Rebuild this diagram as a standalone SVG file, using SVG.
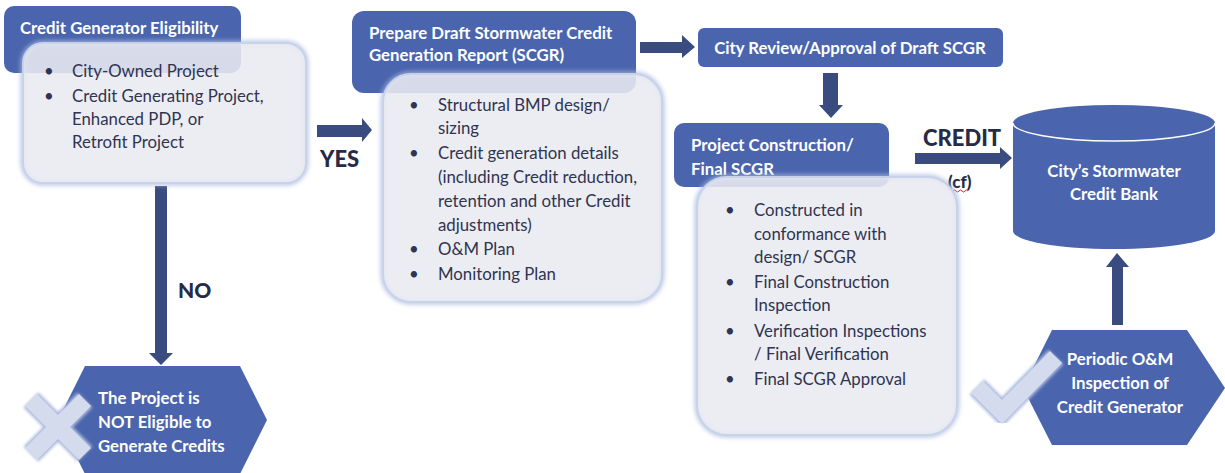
<svg xmlns="http://www.w3.org/2000/svg" width="1225" height="473" viewBox="0 0 1225 473">
<defs>
<style>
.hdr{fill:#4a65ad}
.panel{fill:#e9ebf1;fill-opacity:0.88;stroke:#c8d3ea;stroke-width:2}
.glow{fill:none;stroke:#a9bae0;stroke-width:5;stroke-opacity:0.8}
.ht{font-family:Lato,"Open Sans","Liberation Sans",sans-serif;font-weight:700;font-size:16.8px;fill:#ffffff}
.bt{font-family:Lato,"Open Sans","Liberation Sans",sans-serif;font-size:16.8px;fill:#2f3450}
.arrow{fill:#3a4b80}
.lbl{font-family:Lato,"Liberation Sans",sans-serif;font-weight:900;fill:#262b45}
.mark{fill:none;stroke:#d4dbec;stroke-width:17}
.markedge{fill:none;stroke:#a9b8dc;stroke-width:21}
</style>
<filter id="blur" x="-10%" y="-10%" width="120%" height="120%"><feGaussianBlur stdDeviation="2"/></filter>
<filter id="blur2" x="-20%" y="-20%" width="140%" height="140%"><feGaussianBlur stdDeviation="1.5"/></filter>
</defs>
<rect width="1225" height="473" fill="#ffffff"/>

<g id="connectors">
<polygon class="arrow" points="317,125 362,125 362,118 372,130 362,142 362,137 317,137"/>
<polygon class="arrow" points="640,42 682,42 682,35 695,47 682,58 682,53 640,53"/>
<polygon class="arrow" points="823,73 838,73 838,105 843,105 831,118 819,105 823,105"/>
<polygon class="arrow" points="915,153 1000,153 1000,147 1012,158 1000,169 1000,164 915,164"/>
<polygon class="arrow" points="155,186 167,186 167,353 173,353 161,365 149,353 155,353"/>
<polygon class="arrow" points="1112,325 1112,267 1106,267 1117,253 1129,267 1123,267 1123,325"/>
<text class="lbl" x="320" y="167" font-size="22">YES</text>
<text class="lbl" x="178" y="298" font-size="21">NO</text>
<text class="lbl" x="923" y="146" font-size="22">CREDIT</text>
<text class="lbl" x="948" y="188" font-size="17" font-weight="700">(cf)</text>
<path d="M953,191 q1.5,-2 3,0 t3,0 t3,0 t3,0 t3,0" fill="none" stroke="#d22" stroke-width="1"/>
</g>

<g id="eligibility">
<rect class="hdr" x="4" y="6" width="237" height="67" rx="10"/>
<text class="ht" x="20" y="34">Credit Generator Eligibility</text>
<rect class="glow" x="23" y="43" width="283" height="140" rx="20" filter="url(#blur)"/>
<rect class="panel" x="23" y="43" width="283" height="140" rx="20"/>
<text class="bt" x="44" y="77">•</text>
<text class="bt" x="72" y="77">City-Owned Project</text>
<text class="bt" x="44" y="102">•</text>
<text class="bt" x="72" y="102">Credit Generating Project,</text>
<text class="bt" x="72" y="125">Enhanced PDP, or</text>
<text class="bt" x="72" y="148">Retrofit Project</text>
</g>

<g id="draft-scgr">
<rect class="hdr" x="352" y="11" width="284" height="82" rx="12"/>
<text class="ht" x="369" y="39">Prepare Draft Stormwater Credit</text>
<text class="ht" x="369" y="61">Generation Report (SCGR)</text>
<rect class="glow" x="383" y="74" width="279" height="228" rx="28" filter="url(#blur)"/>
<rect class="panel" x="383" y="74" width="279" height="228" rx="28"/>
<text class="bt" x="409" y="111">•</text>
<text class="bt" x="438" y="111">Structural BMP design/</text>
<text class="bt" x="438" y="134">sizing</text>
<text class="bt" x="409" y="159">•</text>
<text class="bt" x="438" y="159">Credit generation details</text>
<text class="bt" x="438" y="183">(including Credit reduction,</text>
<text class="bt" x="438" y="207">retention and other Credit</text>
<text class="bt" x="438" y="231">adjustments)</text>
<text class="bt" x="409" y="255">•</text>
<text class="bt" x="438" y="255">O&amp;M Plan</text>
<text class="bt" x="409" y="280">•</text>
<text class="bt" x="438" y="280">Monitoring Plan</text>
</g>

<g id="city-review">
<rect class="hdr" x="698" y="28" width="305" height="39" rx="6"/>
<text class="ht" x="850" y="54" text-anchor="middle">City Review/Approval of Draft SCGR</text>
</g>

<g id="construction">
<rect class="hdr" x="674" y="123" width="215" height="64" rx="10"/>
<text class="ht" x="691" y="151">Project Construction/</text>
<text class="ht" x="691" y="175">Final SCGR</text>
<rect class="glow" x="697" y="177" width="260" height="258" rx="30" filter="url(#blur)"/>
<rect class="panel" x="697" y="177" width="260" height="258" rx="30"/>
<text class="bt" x="725" y="216">•</text>
<text class="bt" x="754" y="216">Constructed in</text>
<text class="bt" x="754" y="240">conformance with</text>
<text class="bt" x="754" y="263">design/ SCGR</text>
<text class="bt" x="725" y="288">•</text>
<text class="bt" x="754" y="288">Final Construction</text>
<text class="bt" x="754" y="311">Inspection</text>
<text class="bt" x="725" y="337">•</text>
<text class="bt" x="754" y="337">Verification Inspections</text>
<text class="bt" x="754" y="360">/ Final Verification</text>
<text class="bt" x="725" y="385">•</text>
<text class="bt" x="754" y="385">Final SCGR Approval</text>
</g>

<g id="credit-bank">
<path class="hdr" d="M1013,123 A101,18 0 0 1 1215,123 L1215,231 A101,18 0 0 1 1013,231 Z"/>
<path d="M1013,123 A101,18 0 0 0 1215,123" fill="none" stroke="#ffffff" stroke-width="1.5"/>
<text class="ht" x="1114" y="177" text-anchor="middle">City’s Stormwater</text>
<text class="ht" x="1114" y="200" text-anchor="middle">Credit Bank</text>
</g>

<g id="periodic-om">
<polygon class="hdr" points="1052,330 1187,330 1225,388 1187,445 1052,445 1023,388"/>
<polyline class="markedge" points="977,387 1002,412 1056,357" filter="url(#blur2)"/>
<polyline class="mark" points="977,387 1002,412 1056,357"/>
<text class="ht" x="1120" y="365" text-anchor="middle">Periodic O&amp;M</text>
<text class="ht" x="1120" y="389" text-anchor="middle">Inspection of</text>
<text class="ht" x="1120" y="413" text-anchor="middle">Credit Generator</text>
</g>

<g id="not-eligible">
<polygon class="hdr" points="85,366 240,366 267,420 240,474 85,474 58,420"/>
<g filter="url(#blur2)">
<path class="markedge" d="M31,400 L85,454 M85,400 L31,454"/>
</g>
<path class="mark" d="M31,400 L85,454 M85,400 L31,454"/>
<text class="ht" x="98" y="404">The Project is</text>
<text class="ht" x="98" y="428">NOT Eligible to</text>
<text class="ht" x="98" y="452">Generate Credits</text>
</g>
</svg>
